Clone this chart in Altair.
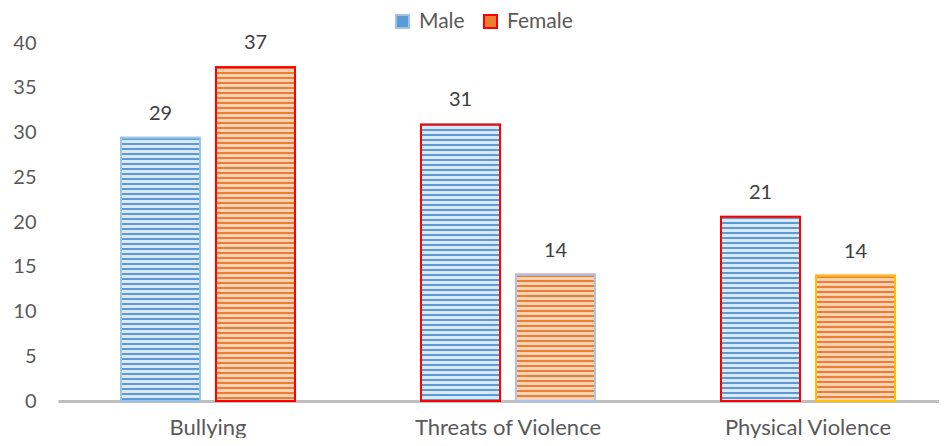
import altair as alt
import pandas as pd

categories = ["Bullying", "Threats of Violence", "Physical Violence"]
genders = ["Male", "Female"]
male_values = [29.4, 30.9, 20.6]
female_values = [37.3, 14.1, 14.0]

rows = []
for c, m, f in zip(categories, male_values, female_values):
    rows.append({"category": c, "gender": "Male", "value": m})
    rows.append({"category": c, "gender": "Female", "value": f})
df = pd.DataFrame(rows)

FONT = "Lato"
PLOT_H = 358
Y_MAX = 40
STRIPE = 5.0
DARK_PART = 2.0

palette = {
    "Male": ("#5b9bd5", "#dbe8f6"),
    "Female": ("#ed7d31", "#fad3b6"),
}
borders = {
    ("Bullying", "Male"): "#9dc3e6",
    ("Bullying", "Female"): "#ff0000",
    ("Threats of Violence", "Male"): "#ff0000",
    ("Threats of Violence", "Female"): "#a9c4eb",
    ("Physical Violence", "Male"): "#ff0000",
    ("Physical Violence", "Female"): "#ffc000",
}


def stripes(value, dark, light):
    h = value * PLOT_H / Y_MAX
    stops = []
    pos = 0.0
    while pos < h:
        a = pos / h
        b = min((pos + DARK_PART) / h, 1.0)
        c = min((pos + STRIPE) / h, 1.0)
        stops += [
            alt.GradientStop(color=dark, offset=a),
            alt.GradientStop(color=dark, offset=b),
            alt.GradientStop(color=light, offset=b),
            alt.GradientStop(color=light, offset=c),
        ]
        pos += STRIPE
    return alt.LinearGradient(gradient="linear", stops=stops, x1=0, x2=0, y1=0, y2=1)


x_enc = alt.X(
    "category:N",
    sort=categories,
    scale=alt.Scale(range=[0, 900], paddingInner=0.42, paddingOuter=0.21),
    axis=alt.Axis(
        title=None,
        labelAngle=0,
        ticks=False,
        domain=True,
        domainColor="#bfbfbf",
        domainWidth=3,
        labelPadding=16,
        labelFontSize=22,
        labelLimit=400,
        labelColor="#595959",
        labelFont=FONT,
    ),
)
xoff_enc = alt.XOffset(
    "gender:N", sort=genders, scale=alt.Scale(paddingInner=0.168, paddingOuter=0)
)
y_enc = alt.Y(
    "value:Q",
    scale=alt.Scale(domain=[0, Y_MAX], nice=False),
    axis=alt.Axis(
        title=None,
        values=list(range(0, 41, 5)),
        grid=False,
        domain=False,
        ticks=False,
        labelPadding=22,
        labelFontSize=20,
        labelColor="#595959",
        labelFont=FONT,
    ),
)

legend_opts = dict(
    title=None,
    orient="none",
    legendX=334,
    legendY=-32,
    direction="horizontal",
    symbolType="square",
    symbolSize=169,
    symbolStrokeWidth=2,
    labelFontSize=21,
    labelFont=FONT,
    labelColor="#595959",
    labelOffset=6,
    columnPadding=15,
)

base = (
    alt.Chart(df)
    .mark_bar(strokeWidth=2)
    .encode(
        x=x_enc,
        xOffset=xoff_enc,
        y=y_enc,
        color=alt.Color(
            "gender:N",
            sort=genders,
            scale=alt.Scale(domain=genders, range=["#5b9bd5", "#ed7d31"]),
            legend=alt.Legend(**legend_opts),
        ),
        stroke=alt.Stroke(
            "gender:N",
            sort=genders,
            scale=alt.Scale(domain=genders, range=["#9dc3e6", "#ff0000"]),
            legend=alt.Legend(**legend_opts),
        ),
    )
)

layers = [base]
for c, m, f in zip(categories, male_values, female_values):
    for g, v in (("Male", m), ("Female", f)):
        dark, light = palette[g]
        layers.append(
            alt.Chart(df)
            .transform_filter((alt.datum.category == c) & (alt.datum.gender == g))
            .mark_bar(
                fill=stripes(v, dark, light),
                stroke=borders[(c, g)],
                strokeWidth=2,
            )
            .encode(x=x_enc, xOffset=xoff_enc, y=y_enc)
        )

labels = (
    alt.Chart(df)
    .mark_text(dy=-24, fontSize=20, font=FONT, color="#404040", baseline="middle")
    .encode(
        x=x_enc,
        xOffset=xoff_enc,
        y=y_enc,
        text=alt.Text("value:Q", format=".0f"),
    )
)
layers.append(labels)

chart = (
    alt.layer(*layers)
    .properties(
        width=881,
        height=PLOT_H,
        autosize=alt.AutoSizeParams(type="none"),
        padding={"left": 50, "top": 35, "right": 0, "bottom": 37},
    )
    .configure_view(stroke=None)
)

chart.save("out.html", embed_options={"renderer": "svg", "actions": False})
